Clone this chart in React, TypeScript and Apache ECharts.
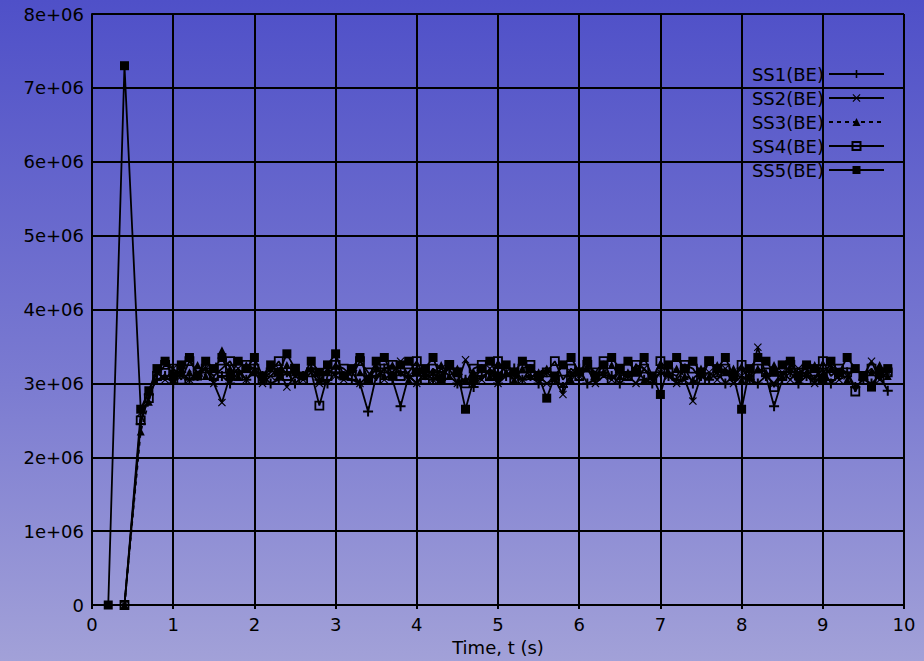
import React, { useEffect, useRef } from 'react';
import * as echarts from 'echarts';

// Time (s) samples for SS1..SS4
const TIME = [0.4,
  0.6, 0.7, 0.8, 0.9, 1.0, 1.1, 1.2, 1.3, 1.4, 1.5,
  1.6, 1.7, 1.8, 1.9, 2.0, 2.1, 2.2, 2.3, 2.4, 2.5,
  2.6, 2.7, 2.8, 2.9, 3.0, 3.1, 3.2, 3.3, 3.4, 3.5,
  3.6, 3.7, 3.8, 3.9, 4.0, 4.1, 4.2, 4.3, 4.4, 4.5,
  4.6, 4.7, 4.8, 4.9, 5.0, 5.1, 5.2, 5.3, 5.4, 5.5,
  5.6, 5.7, 5.8, 5.9, 6.0, 6.1, 6.2, 6.3, 6.4, 6.5,
  6.6, 6.7, 6.8, 6.9, 7.0, 7.1, 7.2, 7.3, 7.4, 7.5,
  7.6, 7.7, 7.8, 7.9, 8.0, 8.1, 8.2, 8.3, 8.4, 8.5,
  8.6, 8.7, 8.8, 8.9, 9.0, 9.1, 9.2, 9.3, 9.4, 9.5,
  9.6, 9.7, 9.8];
// Time (s) samples for SS5
const TIME_SS5 = [0.2, 0.4,
  0.6, 0.7, 0.8, 0.9, 1.0, 1.1, 1.2, 1.3, 1.4, 1.5,
  1.6, 1.7, 1.8, 1.9, 2.0, 2.1, 2.2, 2.3, 2.4, 2.5,
  2.6, 2.7, 2.8, 2.9, 3.0, 3.1, 3.2, 3.3, 3.4, 3.5,
  3.6, 3.7, 3.8, 3.9, 4.0, 4.1, 4.2, 4.3, 4.4, 4.5,
  4.6, 4.7, 4.8, 4.9, 5.0, 5.1, 5.2, 5.3, 5.4, 5.5,
  5.6, 5.7, 5.8, 5.9, 6.0, 6.1, 6.2, 6.3, 6.4, 6.5,
  6.6, 6.7, 6.8, 6.9, 7.0, 7.1, 7.2, 7.3, 7.4, 7.5,
  7.6, 7.7, 7.8, 7.9, 8.0, 8.1, 8.2, 8.3, 8.4, 8.5,
  8.6, 8.7, 8.8, 8.9, 9.0, 9.1, 9.2, 9.3, 9.4, 9.5,
  9.6, 9.7, 9.8];

// values in units of 1e+06
const SS1 = [0,
  2.45, 2.85, 3.05, 3.1, 3.0, 3.15, 3.05, 3.1, 3.2, 3.05,
  3.1, 3.0, 3.15, 3.05, 3.2, 3.1, 3.0, 3.05, 3.15, 3.0,
  3.1, 3.2, 3.05, 3.0, 3.15, 3.1, 3.05, 3.0, 2.62, 3.1,
  3.2, 3.05, 2.69, 3.1, 3.0, 3.15, 3.05, 3.1, 3.2, 3.0,
  3.05, 2.95, 3.1, 3.15, 3.0, 3.1, 3.2, 3.05, 3.1, 3.0,
  3.15, 3.05, 2.95, 3.1, 3.2, 3.0, 3.05, 3.15, 3.1, 3.0,
  3.1, 3.2, 3.05, 3.0, 3.15, 3.1, 3.05, 3.2, 3.0, 3.1,
  3.05, 3.15, 3.0, 3.1, 3.2, 3.05, 3.0, 3.1, 2.69, 3.05,
  3.15, 3.0, 3.1, 3.05, 3.2, 3.0, 3.1, 3.15, 2.95, 3.05,
  3.0, 3.1, 2.9];
const SS2 = [0,
  2.6, 2.9, 3.15, 3.05, 3.2, 3.1, 3.05, 3.15, 3.2, 3.0,
  2.74, 3.1, 3.2, 3.05, 3.15, 3.0, 3.1, 3.2, 2.95, 3.1,
  3.05, 3.15, 3.0, 3.2, 3.1, 3.05, 3.15, 3.0, 3.1, 3.25,
  3.05, 3.15, 3.3, 3.1, 3.0, 3.15, 3.05, 3.2, 3.1, 3.0,
  3.32, 3.1, 3.05, 3.2, 3.0, 3.15, 3.1, 3.05, 3.2, 3.1,
  3.0, 3.05, 2.85, 3.15, 3.1, 3.2, 3.0, 3.1, 3.05, 3.15,
  3.1, 3.0, 3.2, 3.05, 3.15, 3.1, 3.0, 3.05, 2.76, 3.1,
  3.15, 3.05, 3.2, 3.0, 3.1, 3.05, 3.49, 3.1, 3.0, 3.15,
  3.05, 3.2, 3.1, 3.0, 3.15, 3.25, 3.05, 3.1, 3.2, 3.1,
  3.3, 3.05, 3.15];
const SS3 = [0,
  2.35, 2.75, 3.2, 3.1, 3.05, 3.2, 3.15, 3.25, 3.1, 3.2,
  3.45, 3.2, 3.1, 3.25, 3.15, 3.05, 3.2, 3.1, 3.25, 3.15,
  3.1, 3.2, 3.05, 3.15, 3.25, 3.1, 3.2, 3.15, 3.05, 3.2,
  3.1, 3.25, 3.15, 3.05, 3.2, 3.1, 3.15, 3.25, 3.1, 3.2,
  3.05, 3.15, 3.2, 3.1, 3.25, 3.15, 3.05, 3.2, 3.1, 3.15,
  3.2, 3.1, 3.25, 3.05, 3.15, 3.2, 3.1, 3.15, 3.25, 3.1,
  3.15, 3.2, 3.05, 3.1, 3.25, 3.15, 3.2, 3.1, 3.05, 3.2,
  3.1, 3.25, 3.15, 3.2, 3.05, 3.1, 3.2, 3.15, 3.25, 3.1,
  3.2, 3.05, 3.15, 3.25, 3.1, 3.2, 3.15, 3.05, 3.2, 3.1,
  3.15, 3.25, 3.1];
const SS4 = [0,
  2.5, 2.8, 3.1, 3.25, 3.2, 3.05, 3.3, 3.15, 3.2, 3.1,
  3.2, 3.3, 3.1, 3.25, 3.2, 3.05, 3.15, 3.3, 3.1, 3.2,
  3.05, 3.15, 2.7, 3.1, 3.25, 3.2, 3.1, 3.3, 3.15, 3.05,
  3.2, 3.25, 3.1, 3.15, 3.3, 3.05, 3.2, 3.1, 3.25, 3.15,
  3.0, 3.2, 3.25, 3.1, 3.3, 3.15, 3.05, 3.2, 3.25, 3.1,
  3.15, 3.3, 3.05, 3.2, 3.1, 3.25, 3.15, 3.3, 3.05, 3.2,
  3.1, 3.25, 3.2, 3.05, 3.3, 3.15, 3.1, 3.25, 3.2, 3.05,
  3.3, 3.15, 3.2, 3.1, 3.25, 3.05, 3.2, 3.15, 2.95, 3.1,
  3.25, 3.15, 3.2, 3.05, 3.3, 3.1, 3.2, 3.15, 2.89, 3.1,
  3.2, 3.05, 3.15];
const SS5 = [0, 7.3,
  2.65, 2.9, 3.2, 3.3, 3.1, 3.25, 3.35, 3.1, 3.3, 3.2,
  3.35, 3.1, 3.3, 3.2, 3.35, 3.1, 3.25, 3.15, 3.4, 3.2,
  3.1, 3.3, 3.15, 3.25, 3.4, 3.1, 3.2, 3.35, 3.05, 3.3,
  3.35, 3.1, 3.25, 3.3, 3.15, 3.2, 3.35, 3.05, 3.25, 3.15,
  2.65, 3.05, 3.2, 3.3, 3.1, 3.25, 3.15, 3.3, 3.2, 3.1,
  2.8, 3.1, 3.25, 3.35, 3.15, 3.3, 3.1, 3.25, 3.35, 3.2,
  3.3, 3.15, 3.35, 3.1, 2.85, 3.25, 3.35, 3.2, 3.3, 3.15,
  3.3, 3.2, 3.35, 3.1, 2.65, 3.2, 3.35, 3.3, 3.15, 3.25,
  3.3, 3.1, 3.25, 3.2, 3.05, 3.3, 3.15, 3.35, 3.2, 3.1,
  2.95, 3.15, 3.2];

const SERIES_NAMES = ['SS1(BE)', 'SS2(BE)', 'SS3(BE)', 'SS4(BE)', 'SS5(BE)'];
const X_TITLE = 'Time, t (s)';

const FONT = 'DejaVu Sans, Liberation Sans, sans-serif';

const PLUS = 'path://M4,0H6V4H10V6H6V10H4V6H0V4H4Z';
const CROSS = 'path://M0,1L1,0L5,4L9,0L10,1L6,5L10,9L9,10L5,6L1,10L0,9L4,5Z';

export default function App() {
  const ref = useRef<HTMLDivElement>(null);
  useEffect(() => {
    if (!ref.current) return;
    const chart = echarts.init(ref.current, null, { renderer: 'svg' });
    const mk = (name: string, times: number[], vals: number[], symbol: string, size: number, extra: any = {}) => ({
      name,
      type: 'line',
      data: times.map((t, i) => [t, vals[i]]),
      symbol,
      symbolSize: size,
      showAllSymbol: true,
      lineStyle: { color: '#000', width: 1.8, ...(extra.lineStyle || {}) },
      itemStyle: { color: '#000', borderColor: '#000', borderWidth: 0, ...(extra.itemStyle || {}) },
      emphasis: { disabled: true },
    });
    chart.setOption({
      animation: false,
      backgroundColor: 'transparent',
      grid: { left: 92, right: 20, top: 14, bottom: 55, containLabel: false },
      legend: {
        data: SERIES_NAMES,
        orient: 'vertical',
        right: 34,
        top: 60,
        align: 'right',
        itemWidth: 55,
        itemHeight: 10,
        itemGap: 6,
        textStyle: { fontSize: 18, fontFamily: FONT, color: '#000' },
      },
      xAxis: {
        type: 'value',
        min: 0,
        max: 10,
        interval: 1,
        name: X_TITLE,
        nameLocation: 'middle',
        nameGap: 33,
        nameTextStyle: { fontSize: 18, fontFamily: FONT, color: '#000' },
        axisLine: { show: true, lineStyle: { color: '#000', width: 2 } },
        axisTick: { show: true, length: 4, lineStyle: { color: '#000', width: 2 } },
        axisLabel: { fontSize: 18, fontFamily: FONT, color: '#000', margin: 10 },
        splitLine: { show: true, lineStyle: { color: '#000', width: 2 } },
      },
      yAxis: {
        type: 'value',
        min: 0,
        max: 8,
        interval: 1,
        axisLine: { show: true, lineStyle: { color: '#000', width: 2 } },
        axisTick: { show: false },
        axisLabel: {
          fontSize: 18,
          fontFamily: FONT,
          color: '#000',
          margin: 8,
          formatter: (v: number) => (v === 0 ? '0' : `${v}e+06`),
        },
        splitLine: { show: true, lineStyle: { color: '#000', width: 2 } },
      },
      series: [
        mk(SERIES_NAMES[0], TIME, SS1, PLUS, 10),
        mk(SERIES_NAMES[1], TIME, SS2, CROSS, 8),
        mk(SERIES_NAMES[2], TIME, SS3, 'triangle', 8, { lineStyle: { type: [4, 4] } }),
        mk(SERIES_NAMES[3], TIME, SS4, 'rect', 8, { itemStyle: { color: 'rgba(0,0,0,0)', borderColor: '#000', borderWidth: 1.8 } }),
        mk(SERIES_NAMES[4], TIME_SS5, SS5, 'rect', 9),
      ],
    });
    return () => chart.dispose();
  }, []);
  return (
    <div
      style={{
        position: 'fixed',
        left: 0,
        top: 0,
        width: 924,
        height: 661,
        background: 'linear-gradient(to bottom, #4f50c8 0%, #7b7bd1 58%, #a2a1d8 100%)',
      }}
    >
      <div ref={ref} style={{ width: 924, height: 661 }} />
    </div>
  );
}
